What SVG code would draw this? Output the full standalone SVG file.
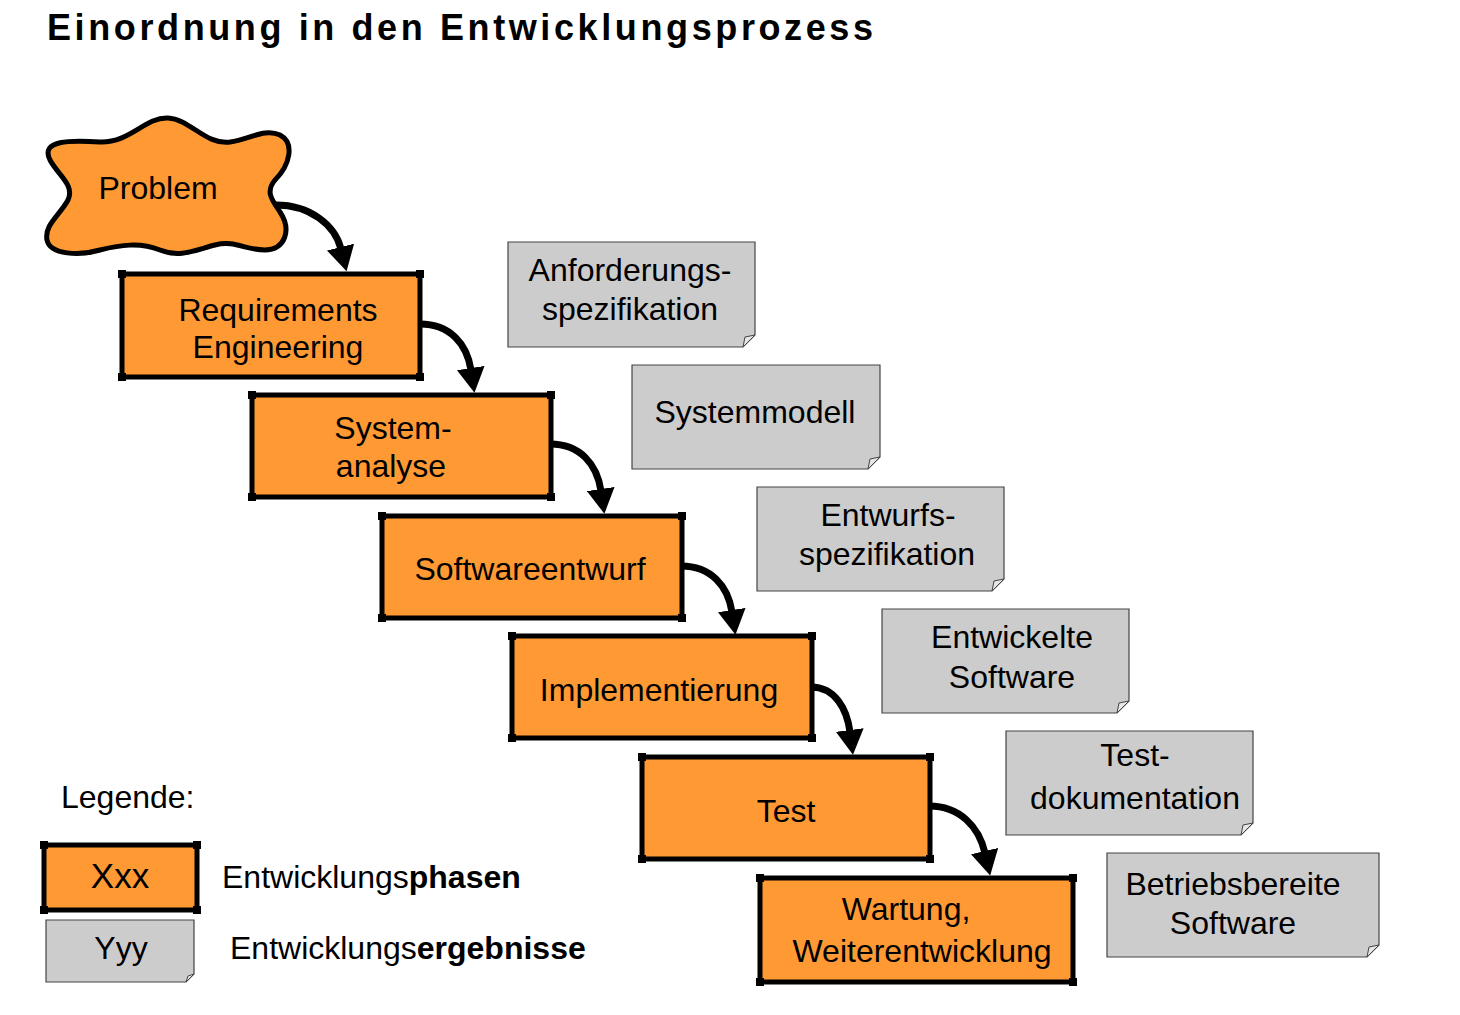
<svg xmlns="http://www.w3.org/2000/svg" width="1460" height="1015" viewBox="0 0 1460 1015">
<style>
text{font-family:"Liberation Sans",Arial,sans-serif;font-size:32px;fill:#000}
.t{text-anchor:middle}
.ph{fill:#FF9933;stroke:#000;stroke-width:5}
.doc{fill:#CCCCCC;stroke:#444;stroke-width:1.2}
.fold{fill:#E6E6E6;stroke:#444;stroke-width:1}
.arr{fill:none;stroke:#000;stroke-width:7;marker-end:url(#ah)}
.cn{fill:#000}
</style>
<defs>
<marker id="ah" markerUnits="userSpaceOnUse" markerWidth="26" markerHeight="28" viewBox="0 0 26 28" refX="2" refY="14" orient="auto">
<path d="M0,0 L25,14 L0,28 Z" fill="#000"/>
</marker>
<g id="corners">
<rect x="-4" y="-4" width="8" height="8" class="cn"/>
</g>
</defs>
<rect width="1460" height="1015" fill="#fff"/>
<text x="47" y="40" textLength="826" lengthAdjust="spacing" style="font-size:36px;font-weight:bold">Einordnung in den Entwicklungsprozess</text>

<g id="problem">
<path d="M50,160 C40,140 70,140 100,142 C130,143 145,117 168,118 C190,119 205,145 230,142 C250,139 265,128 280,135 C295,143 290,165 275,180 C265,192 272,200 280,212 C292,230 285,250 265,250 C245,250 235,240 215,245 C195,250 180,258 160,250 C140,242 120,245 100,250 C80,256 50,255 47,240 C44,225 60,215 68,200 C75,185 58,175 50,160 Z" fill="#FF9933" stroke="#000" stroke-width="5"/>
<text class="t" x="158" y="199">Problem</text>
</g>

<g id="req">
<rect class="ph" x="122" y="274" width="298" height="103"/>
<use href="#corners" x="122" y="274"/><use href="#corners" x="420" y="274"/><use href="#corners" x="122" y="377"/><use href="#corners" x="420" y="377"/>
<text class="t" x="278" y="321">Requirements</text>
<text class="t" x="278" y="358">Engineering</text>
</g>

<g id="sysana">
<rect class="ph" x="252" y="395" width="299" height="102"/>
<use href="#corners" x="252" y="395"/><use href="#corners" x="551" y="395"/><use href="#corners" x="252" y="497"/><use href="#corners" x="551" y="497"/>
<text class="t" x="393" y="439">System-</text>
<text class="t" x="391" y="477">analyse</text>
</g>

<g id="swentwurf">
<rect class="ph" x="382" y="516" width="300" height="102"/>
<use href="#corners" x="382" y="516"/><use href="#corners" x="682" y="516"/><use href="#corners" x="382" y="618"/><use href="#corners" x="682" y="618"/>
<text class="t" x="530" y="580">Softwareentwurf</text>
</g>

<g id="impl">
<rect class="ph" x="512" y="636" width="300" height="102"/>
<use href="#corners" x="512" y="636"/><use href="#corners" x="812" y="636"/><use href="#corners" x="512" y="738"/><use href="#corners" x="812" y="738"/>
<text class="t" x="659" y="701">Implementierung</text>
</g>

<g id="test">
<rect class="ph" x="642" y="757" width="288" height="102"/>
<use href="#corners" x="642" y="757"/><use href="#corners" x="930" y="757"/><use href="#corners" x="642" y="859"/><use href="#corners" x="930" y="859"/>
<text class="t" x="786" y="822">Test</text>
</g>

<g id="wartung">
<rect class="ph" x="760" y="878" width="313" height="104"/>
<use href="#corners" x="760" y="878"/><use href="#corners" x="1073" y="878"/><use href="#corners" x="760" y="982"/><use href="#corners" x="1073" y="982"/>
<text class="t" x="906" y="920">Wartung,</text>
<text class="t" x="922" y="962">Weiterentwicklung</text>
</g>

<g id="doc1">
<path class="doc" d="M508,242 H755 V335 L743,347 H508 Z"/>
<path class="fold" d="M755,335 L743,347 L745,337 Z"/>
<text class="t" x="630" y="281">Anforderungs-</text>
<text class="t" x="630" y="320">spezifikation</text>
</g>

<g id="doc2">
<path class="doc" d="M632,365 H880 V457 L868,469 H632 Z"/>
<path class="fold" d="M880,457 L868,469 L870,459 Z"/>
<text class="t" x="755" y="423">Systemmodell</text>
</g>

<g id="doc3">
<path class="doc" d="M757,487 H1004 V579 L992,591 H757 Z"/>
<path class="fold" d="M1004,579 L992,591 L994,581 Z"/>
<text class="t" x="888" y="526">Entwurfs-</text>
<text class="t" x="887" y="565">spezifikation</text>
</g>

<g id="doc4">
<path class="doc" d="M882,609 H1129 V701 L1117,713 H882 Z"/>
<path class="fold" d="M1129,701 L1117,713 L1119,703 Z"/>
<text class="t" x="1012" y="648">Entwickelte</text>
<text class="t" x="1012" y="688">Software</text>
</g>

<g id="doc5">
<path class="doc" d="M1006,731 H1253 V823 L1241,835 H1006 Z"/>
<path class="fold" d="M1253,823 L1241,835 L1243,825 Z"/>
<text class="t" x="1135" y="766">Test-</text>
<text class="t" x="1135" y="809">dokumentation</text>
</g>

<g id="doc6">
<path class="doc" d="M1107,853 H1379 V945 L1367,957 H1107 Z"/>
<path class="fold" d="M1379,945 L1367,957 L1369,947 Z"/>
<text class="t" x="1233" y="895">Betriebsbereite</text>
<text class="t" x="1233" y="934">Software</text>
</g>

<g id="connectors">
<path class="arr" d="M276,205 C310,205 335,225 341,249"/>
<path class="arr" d="M420,324 C450,324 467,344 471,370"/>
<path class="arr" d="M550,444 C580,444 597,464 601,491"/>
<path class="arr" d="M681,566 C711,566 728,586 732,612"/>
<path class="arr" d="M811,687 C835,687 847,709 850,732"/>
<path class="arr" d="M929,806 C960,806 979,827 985,853"/>
</g>

<g id="legend">
<text x="61" y="808">Legende:</text>
<rect class="ph" x="44" y="845" width="153" height="65"/>
<use href="#corners" x="44" y="845"/><use href="#corners" x="197" y="845"/><use href="#corners" x="44" y="910"/><use href="#corners" x="197" y="910"/>
<text class="t" x="120" y="888" style="font-size:35px">Xxx</text>
<path class="doc" d="M46,920 H194 V974 L186,982 H46 Z"/>
<path class="fold" d="M194,974 L186,982 L188,976 Z"/>
<text class="t" x="121" y="959">Yyy</text>
<text x="222" y="888">Entwicklungs<tspan font-weight="bold">phasen</tspan></text>
<text x="230" y="959">Entwicklungs<tspan font-weight="bold">ergebnisse</tspan></text>
</g>
</svg>
